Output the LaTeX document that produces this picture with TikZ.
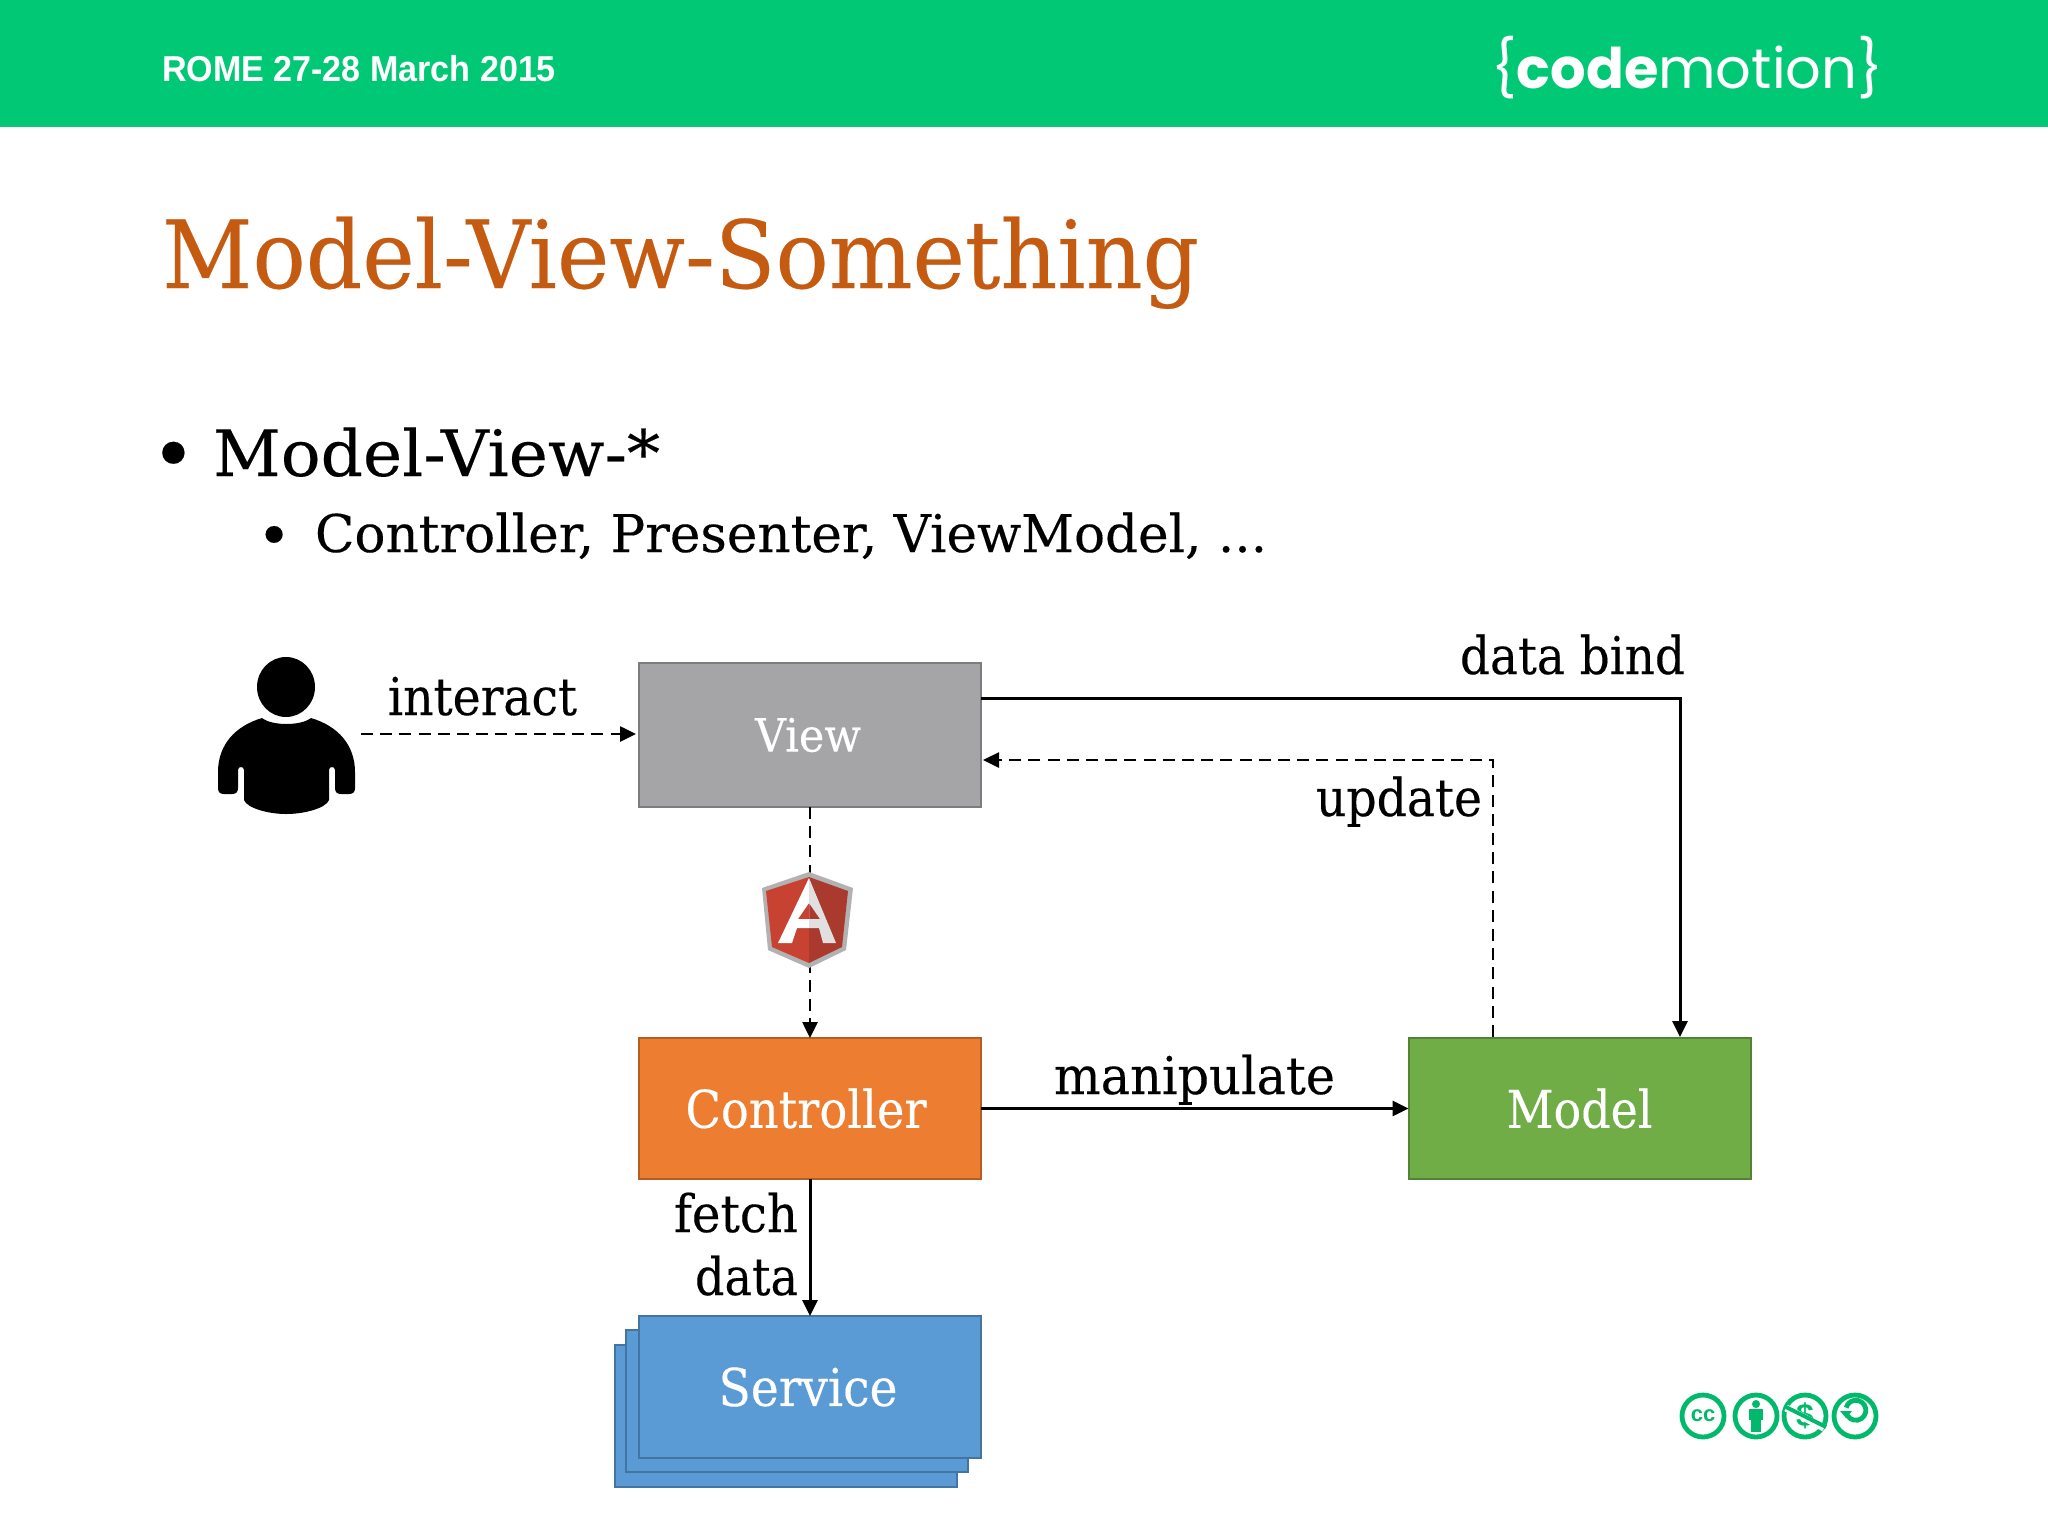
\documentclass[tikz,border=0pt]{standalone}
\usepackage{fontspec}
\usepackage{graphicx}
\usetikzlibrary{arrows.meta}
\setmainfont[FakeBold=0.25]{DejaVu Serif}
\newfontfamily\headfont{Liberation Sans}
\newfontfamily\logofont{Poppins}
\newfontfamily\ccfont{Liberation Sans}
\newcommand{\fitw}[2]{\resizebox{\dimexpr #1pt/2\relax}{\height}{#2}}
\definecolor{hdr}{HTML}{00C875}
\definecolor{ttl}{HTML}{C55A11}
\definecolor{ccg}{HTML}{00B96B}
\tikzset{
  x=0.5pt,y=-0.5pt,
  txt/.style={inner sep=0pt,outer sep=0pt,anchor=base west},
  lbl/.style={txt,font=\fontsize{26}{30}\selectfont,text=black},
  box/.style={draw=#1!75!black,line width=1pt,minimum width=171pt,minimum height=71pt,inner sep=0pt,outer sep=0pt,text=white,font=\fontsize{26}{30}\selectfont},
  conn/.style={line width=1.5pt,black,-{Triangle[length=8pt,width=7.5pt]}},
  dconn/.style={conn,line width=1.3pt,dash pattern=on 6pt off 3.6pt},
  ccring/.style={circle,draw=ccg,line width=2.4pt,minimum size=21pt,inner sep=0pt,outer sep=0pt,text=ccg},
}
\definecolor{vw}{HTML}{A5A4A6}
\definecolor{ct}{HTML}{ED7D31}
\definecolor{md}{HTML}{70AD47}
\definecolor{sv}{HTML}{5B9BD5}
\begin{document}
\begin{tikzpicture}
\useasboundingbox (0,0) rectangle (2048,1536);
\fill[white] (0,0) rectangle (2048,1536);
\fill[hdr] (0,0) rectangle (2048,127);
\node[txt,text=white,font=\headfont\bfseries\fontsize{18}{20}\selectfont] (hdrtext) at (162,82) {\fitw{394}{ROME 27-28 March 2015}};
\node[txt,text=white,font=\logofont\fontsize{28}{32}\selectfont] (logo) at (1491,89) {\fitw{392}{\{\textbf{code}motion\}}};
\node[txt,text=ttl,font=\fontsize{47}{52}\selectfont] (title) at (162,288) {\fitw{1037}{Model-View-Something}};
\node[txt,font=\fontsize{38}{40}\selectfont] (b1) at (151,481) {•};
\node[txt,font=\fontsize{32}{36}\selectfont] (t1) at (213,476) {\fitw{447}{Model-View-*}};
\node[txt,font=\fontsize{29}{30}\selectfont] (b2) at (257,556) {•};
\node[txt,font=\fontsize{26}{30}\selectfont] (t2) at (315,552) {\fitw{952}{Controller, Presenter, ViewModel, ...}};

% person
\fill[black] (286,687) ellipse (29 and 30);
\fill[black] (262,718) .. controls (272,726) and (301,726) .. (311,718)
  .. controls (338,726) and (355,745) .. (355,772) -- (355,788)
  .. controls (355,792) and (353,794) .. (349,794) -- (341,794)
  .. controls (337,794) and (335,792) .. (335,788) -- (335,770)
  .. controls (335,766) and (329,766) .. (329,770) -- (329,800)
  .. controls (326,808) and (305,814) .. (286,814)
  .. controls (268,814) and (247,808) .. (244,800) -- (244,770)
  .. controls (244,766) and (238,766) .. (238,770) -- (238,788)
  .. controls (238,792) and (236,794) .. (232,794) -- (224,794)
  .. controls (220,794) and (218,792) .. (218,788) -- (218,772)
  .. controls (218,745) and (235,726) .. (262,718) -- cycle;
\coordinate (user) at (361,734);

% service stack
\node[box=sv,fill=sv] (s3) at (786,1416) {};
\node[box=sv,fill=sv] (s2) at (797,1401) {};
\node[box=sv,fill=sv] (service) at (810,1387) {\hspace*{-1pt}\raisebox{-2pt}{\fitw{179}{Service}}\hspace*{1pt}};
\node[box=vw,fill=vw,minimum height=72pt,font=\fontsize{23}{28}\selectfont] (view) at (810,735) {\hspace*{-1pt}\fitw{106}{View}\hspace*{1pt}};
\node[box=ct,fill=ct,minimum height=70.5pt] (ctrl) at (810,1108.5) {\hspace*{-2pt}\raisebox{0.5pt}{\fitw{241}{Controller}}\hspace*{2pt}};
\node[box=md,fill=md,minimum height=70.5pt] (model) at (1579.5,1108.5) {\raisebox{0.5pt}{\fitw{146}{Model}}};

\coordinate (userEnd) at (636,734);
\coordinate (bindA) at (981,698);
\coordinate (bindB) at (1680,698);
\coordinate (bindC) at (1680,1037);
\coordinate (updA) at (1493,1037);
\coordinate (updB) at (1493,760);
\coordinate (updC) at (983,760);

\draw[dconn] (user) -- (userEnd);
\draw[dconn] (view.south) -- (ctrl.north);
\draw[conn] (bindA) -- (bindB) -- (bindC);
\draw[dconn] (updA) -- (updB) -- (updC);
\draw[conn] (ctrl.east) -- (model.west);
\draw[conn] (ctrl.south) -- (service.north);

% angular shield
\fill[fill={rgb,255:red,178;green,178;blue,178}] (809,872) -- (853,888) -- (846,950) -- (809,968) -- (768,950) -- (762,888) -- cycle;
\fill[fill={rgb,255:red,199;green,66;blue,48}] (809,877) -- (809,963) -- (772,947) -- (766,891) -- cycle;
\fill[fill={rgb,255:red,170;green,58;blue,45}] (809,877) -- (848,891) -- (842,947) -- (809,963) -- cycle;
\fill[white,even odd rule] (809,878) -- (809,928) -- (797,928) -- (792,943) -- (778,943) -- cycle
  (809,903) -- (798,919) -- (809,919) -- cycle;
\fill[black!12,even odd rule] (809,878) -- (836,943) -- (823,943) -- (819,928) -- (809,928) -- cycle
  (809,903) -- (820,919) -- (809,919) -- cycle;

% labels
\node[lbl] (linteract) at (388,715) {\fitw{189}{interact}};
\node[lbl] (lbind) at (1460,674) {\fitw{225}{data bind}};
\node[lbl] (lupdate) at (1316,816) {\fitw{166}{update}};
\node[lbl] (lmanip) at (1054,1094) {\fitw{281}{manipulate}};
\node[lbl] (lfetch) at (674,1232) {\fitw{124}{fetch}};
\node[lbl] (ldata) at (695,1295) {\fitw{103}{data}};

% cc icons
\node[ccring,font=\ccfont\bfseries\fontsize{11}{12}\selectfont] (cc) at (1703,1416) {cc};
\node[ccring] (by) at (1756,1416) {};
\fill[ccg] (1756,1404) circle (4);
\fill[ccg] (1749,1409) rectangle (1763,1420);
\fill[ccg] (1751,1420) rectangle (1761,1432);
\node[ccring,font=\ccfont\bfseries\fontsize{16}{16}\selectfont] (nc) at (1805,1416) {\$};
\draw[white,line width=3.5pt] (nc.west) ++(2,-8) -- ++(38,20);
\draw[ccg,line width=2pt] (nc.west) ++(2,-9) -- ++(40,20);
\node[ccring] (sa) at (1855,1416) {};
\draw[ccg,line width=2.4pt] (1846,1412) arc[start angle=170,end angle=-165,radius=10];
\fill[ccg] (1840,1411) -- (1852,1411) -- (1846,1418) -- cycle;
\end{tikzpicture}
\end{document}
